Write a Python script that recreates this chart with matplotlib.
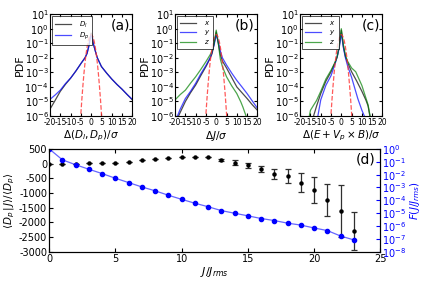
import numpy as np
import matplotlib
matplotlib.use("Agg")
import matplotlib.pyplot as plt

plt.rcParams['font.family'] = 'DejaVu Sans'
plt.rcParams['mathtext.fontset'] = 'dejavusans'
plt.rcParams['axes.unicode_minus'] = False
plt.rcParams['xtick.direction'] = 'in'
plt.rcParams['ytick.direction'] = 'in'
plt.rcParams['xtick.top'] = True
plt.rcParams['ytick.right'] = True

# gaussian reference (red dashed)
xg = [-5.2, -5, -4.5, -4, -3.5, -3, -2.5, -2, -1.5, -1, -0.5, 0, 0.5, 1, 1.5, 2, 2.5, 3, 3.5, 4, 4.5, 5, 5.2]
pg = [5e-7, 1.5e-6, 1.6e-5, 1.3e-4, 8.7e-4, 4.4e-3, 1.75e-2, 5.4e-2, 0.13, 0.24, 0.35, 0.40,
      0.35, 0.24, 0.13, 5.4e-2, 1.75e-2, 4.4e-3, 8.7e-4, 1.3e-4, 1.6e-5, 1.5e-6, 5e-7]

# (a)
xa = [-20, -17.5, -15, -12.5, -10, -7.5, -5, -3, -2, -1, -0.5, 0, 0.5, 1, 2, 3, 5, 7.5, 10, 12.5, 15, 17.5, 20]
a_Dl = [3e-6, 1.2e-5, 5e-5, 1.5e-4, 4e-4, 1.2e-3, 4e-3, 1e-2, 2e-2, 8e-2, 0.25, 0.5,
        0.3, 0.1, 3e-2, 1e-2, 2.5e-3, 9e-4, 3.5e-4, 1.5e-4, 7e-5, 3e-5, 1.3e-5]
a_Dp = [1.4e-5, 2.8e-5, 6e-5, 1.7e-4, 4e-4, 1.2e-3, 4e-3, 1e-2, 2e-2, 7e-2, 0.2, 0.4,
        0.25, 0.1, 3e-2, 1e-2, 2.5e-3, 9e-4, 3.5e-4, 1.5e-4, 7e-5, 3e-5, 1.4e-5]

# (b)
xb = [-20, -17.5, -15, -12.5, -10, -7.5, -5, -3, -2, -1, 0, 1, 2, 3, 5, 7.5, 10, 12.5, 15, 17.5, 20]
b_x = [3e-7, 1.8e-6, 1e-5, 4e-5, 1.35e-4, 6e-4, 2.5e-3, 9e-3, 2e-2, 0.1, 0.6,
       0.1, 1.6e-2, 6e-3, 2e-3, 4.5e-4, 1e-4, 4e-5, 1.6e-5, 6e-6, 2.5e-6]
b_y = [4e-7, 3e-6, 1.6e-5, 5e-5, 1.8e-4, 8e-4, 3e-3, 1e-2, 2.5e-2, 8e-2, 0.4,
       0.12, 3e-2, 1e-2, 3.2e-3, 9e-4, 2.8e-4, 1e-4, 3.5e-5, 1.1e-5, 3.5e-6]
xbz = [-20, -17.5, -15, -12.5, -10, -7.5, -5, -3, -2, -1, 0, 1, 2, 3, 5, 7.5, 10, 12, 13, 14.5, 16]
b_z = [1.3e-5, 3e-5, 6e-5, 1.8e-4, 5e-4, 1.6e-3, 5.5e-3, 1.6e-2, 3e-2, 0.1, 0.8,
       0.1, 8e-3, 2.5e-3, 5e-4, 1.2e-4, 3.5e-5, 9e-6, 4e-6, 1e-6, 3e-7]

# (c)
xcx = [-15, -13.5, -12, -10, -7.5, -5, -3, -2, -1, 0, 1, 2, 3, 5, 7.5, 10, 12, 13, 14]
c_x = [3e-7, 1e-6, 5e-6, 3.5e-5, 2.5e-4, 1.1e-3, 5e-3, 1.2e-2, 6e-2, 0.8,
       6e-2, 1.2e-2, 5e-3, 1.1e-3, 2.5e-4, 5e-5, 1.2e-5, 5e-6, 8e-7]
xcy = [-12, -11.4, -10, -7.5, -5, -3, -2, -1, 0, 1, 2, 3, 5, 8, 10, 11.2, 12]
c_y = [4e-7, 1e-6, 1.3e-5, 1.3e-4, 6e-4, 4e-3, 1.2e-2, 5e-2, 0.5,
       5e-2, 1e-2, 3e-3, 4.5e-4, 1.6e-5, 2.5e-6, 1e-6, 4e-7]
xcz = [-16, -15, -12, -10, -7.5, -5, -3, -2, -1, 0, 1, 2, 3, 5, 7, 10, 13, 14, 15]
c_z = [5e-7, 2.5e-6, 1.2e-5, 5e-5, 3.5e-4, 1.4e-3, 5e-3, 1.2e-2, 8e-2, 1.0,
       8e-2, 1.5e-2, 6e-3, 2e-3, 1.1e-3, 1.25e-4, 6e-6, 1e-6, 3e-7]

# (d)
J = np.arange(24)
Dp_mean = [0, -10, 0, 5, 12, 35, 70, 105, 150, 185, 220, 232, 232, 126, 35, -55,
           -170, -350, -420, -645, -895, -1235, -1600, -2280]
Dp_err = [0, 0, 0, 0, 0, 0, 0, 0, 0, 0, 0, 0, 0, 30, 70, 80, 100, 170, 240, 330,
          430, 545, 885, 650]
F = [1, 1.4e-1, 5.8e-2, 2.6e-2, 1.2e-2, 5.2e-3, 2.4e-3, 1.1e-3, 5.5e-4, 2.5e-4,
     1.2e-4, 6e-5, 3.2e-5, 1.6e-5, 1e-5, 6.3e-6, 3.9e-6, 2.7e-6, 1.7e-6, 1.2e-6,
     7.2e-7, 4.5e-7, 1.7e-7, 8.5e-8]

fig = plt.figure(figsize=(4.24, 2.83), dpi=100)

def pdf_panel(rect, curves, xlabel, tag, labels):
    ax = fig.add_axes(rect)
    for (x, y, c), lab in zip(curves, labels):
        ax.plot(x, y, color=c, lw=0.9, alpha=0.7, label=lab)
    ax.plot(xg, pg, '--', color='#ff3030', lw=0.9, alpha=0.8)
    ax.set_yscale('log')
    ax.set_ylim(1e-6, 1e1)
    ax.set_xlim(-20, 20)
    ax.set_xticks([-20, -15, -10, -5, 0, 5, 10, 15, 20])
    ax.set_yticks([1e-6, 1e-5, 1e-4, 1e-3, 1e-2, 1e-1, 1e0, 1e1])
    ax.minorticks_off()
    ax.tick_params(labelsize=5.5, length=2, pad=1.5)
    ax.tick_params(axis='y', labelsize=7, pad=1)
    ax.set_ylabel('PDF', fontsize=8, labelpad=0)
    ax.set_xlabel(xlabel, fontsize=7.5, labelpad=1)
    ax.text(0.97, 0.96, tag, transform=ax.transAxes, ha='right', va='top', fontsize=10)
    leg = ax.legend(loc='upper left', fontsize=5, handlelength=2.2, borderpad=0.45,
                    labelspacing=0.12, handletextpad=1.2, fancybox=False,
                    borderaxespad=0.3)
    leg.get_frame().set_edgecolor('black')
    leg.get_frame().set_linewidth(0.6)
    return ax

pdf_panel([0.118, 0.590, 0.194, 0.360],
          [(xa, a_Dl, 'black'), (xa, a_Dp, 'blue')],
          r'$\Delta(D_l, D_p)/\sigma$', '(a)', [r'$D_l$', r'$D_p$'])
pdf_panel([0.413, 0.590, 0.194, 0.360],
          [(xb, b_x, 'black'), (xb, b_y, 'blue'), (xbz, b_z, 'green')],
          r'$\Delta J/\sigma$', '(b)', [r'$x$', r'$y$', r'$z$'])
pdf_panel([0.708, 0.590, 0.194, 0.360],
          [(xcx, c_x, 'black'), (xcy, c_y, 'blue'), (xcz, c_z, 'green')],
          r'$\Delta(E + V_p \times B)/\sigma$', '(c)', [r'$x$', r'$y$', r'$z$'])

ax = fig.add_axes([0.116, 0.110, 0.781, 0.364])
ax.errorbar(J, Dp_mean, yerr=Dp_err, fmt='o', color='black', ms=2.2, lw=0.9,
            capsize=2, ecolor='#303030', elinewidth=0.9, capthick=0.9, zorder=3)
ax.set_xlim(0, 25)
ax.set_ylim(-3000, 500)
ax.set_yticks(np.arange(-3000, 501, 500))
ax.tick_params(labelsize=7, length=3, pad=1.5)
ax.tick_params(axis='y', right=False)
ax.set_xlabel(r'$J/J_{rms}$', fontsize=8, labelpad=1)
ax.set_ylabel(r'$\langle D_p\,|\,J\rangle/\langle D_p\rangle$', fontsize=7.5, labelpad=1)
ax.text(0.985, 0.96, '(d)', transform=ax.transAxes, ha='right', va='top', fontsize=10)

ax2 = ax.twinx()
ax2.plot(J, F, '-', color='blue', lw=0.9, alpha=0.6)
ax2.plot(J, F, 'o', color='blue', ms=3, mec='blue')
ax2.set_yscale('log')
ax2.set_ylim(1e-8, 1e0)
ax2.set_yticks([10.0 ** k for k in range(-8, 1)])
ax2.minorticks_off()
ax2.tick_params(axis='y', labelsize=7, colors='blue', length=3, pad=1.5)
ax2.set_ylabel(r'$F(J/J_{rms})$', fontsize=7.5, color='blue', labelpad=1)

fig.savefig('out.png', dpi=100)
